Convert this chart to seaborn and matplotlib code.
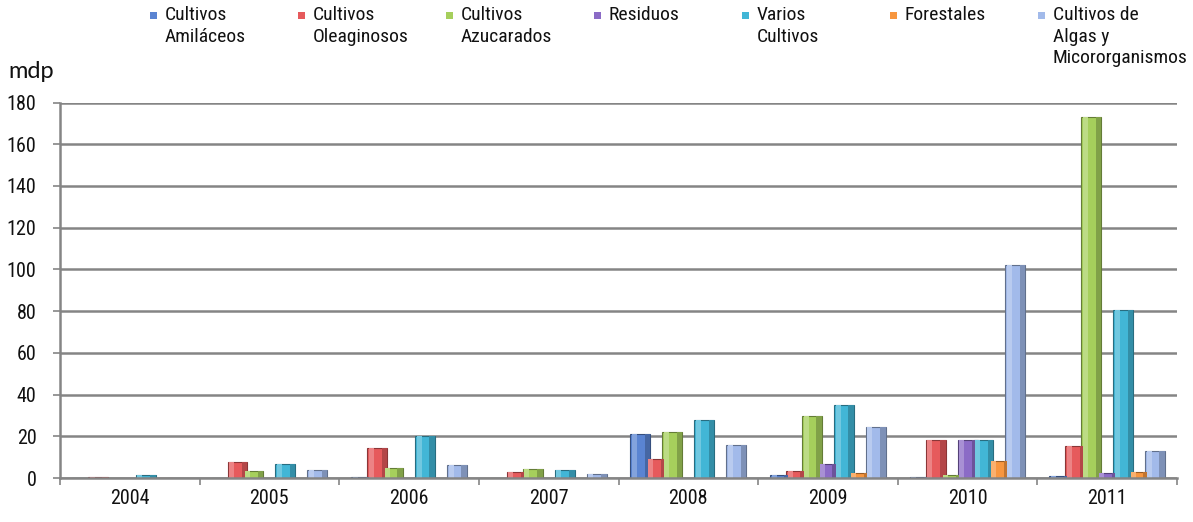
import numpy as np
import pandas as pd
import matplotlib
matplotlib.use("Agg")
import matplotlib.pyplot as plt
import matplotlib.colors as mcolors
from matplotlib import font_manager
from matplotlib.patches import Rectangle
import seaborn as sns

# Inversión por tipo de biomasa (millones de pesos)
years = ["2004", "2005", "2006", "2007", "2008", "2009", "2010", "2011"]
series_names = [
    "Cultivos\nAmiláceos",
    "Cultivos\nOleaginosos",
    "Cultivos\nAzucarados",
    "Residuos",
    "Varios\nCultivos",
    "Forestales",
    "Cultivos de\nAlgas y\nMicororganismos",
]
amilaceos = [0.0, 0.0, 0.3, 0.0, 21.0, 1.5, 0.3, 0.8]
oleaginosos = [0.6, 7.5, 14.5, 2.8, 9.0, 3.5, 18.0, 15.5]
azucarados = [0.2, 3.5, 5.0, 4.5, 22.0, 29.5, 1.5, 173.0]
residuos = [0.0, 0.0, 0.0, 0.0, 0.0, 6.5, 18.0, 2.5]
varios = [1.2, 6.5, 20.0, 3.8, 28.0, 35.0, 18.0, 80.5]
forestales = [0.0, 0.0, 0.0, 0.0, 0.0, 2.5, 8.0, 2.8]
algas = [0.2, 4.0, 6.0, 1.8, 16.0, 24.5, 102.0, 13.0]
y_ticks = [0, 20, 40, 60, 80, 100, 120, 140, 160, 180]

colors = ["#5a84d2", "#e65a5c", "#a6cf5c", "#8b6bc6", "#42b6d6", "#f7963f", "#a2baea"]

values = [amilaceos, oleaginosos, azucarados, residuos, varios, forestales, algas]
df = pd.DataFrame(
    [(y, s, v[i]) for s, v in zip(series_names, values) for i, y in enumerate(years)],
    columns=["year", "serie", "mdp"],
)

# pick a narrow sans face for the labels
entries = font_manager.fontManager.ttflist
names = {f.name for f in entries}
preferred = ["Liberation Sans Narrow", "Roboto Condensed", "Open Sans Condensed",
             "Noto Sans Condensed", "DejaVu Sans Condensed", "Arial Narrow"]
narrow_name = next((n for n in preferred if n in names), None)
narrow_stretch = "normal"
if narrow_name is None:
    cond = [f for f in entries
            if str(f.stretch) in ("condensed", "semi-condensed", "extra-condensed")
            and f.style == "normal"]
    for fam in ["Roboto", "Open Sans", "Noto Sans", "DejaVu Sans", "Liberation Sans"]:
        if any(f.name == fam for f in cond):
            narrow_name, narrow_stretch = fam, "condensed"
            break
if narrow_name is None:
    narrow_name = "Liberation Sans"
narrow = [narrow_name, "DejaVu Sans"]

sns.set_theme(style="white")
plt.rcParams["font.family"] = narrow
plt.rcParams["font.stretch"] = narrow_stretch
plt.rcParams["font.weight"] = "normal"

W, H = 1193, 522
fig = plt.figure(figsize=(W / 100, H / 100), dpi=100)
ax = fig.add_axes([60 / W, 44 / H, (1177 - 60) / W, (478 - 102.5) / H])

sns.barplot(
    data=df, x="year", y="mdp", hue="serie", hue_order=series_names,
    order=years, palette=colors, width=0.8, legend=False, ax=ax,
    linewidth=0, saturation=1,
)

# widen bars so neighbours overlap slightly, and give them a shaded side
for p in list(ax.patches):
    x, w, h = p.get_x(), p.get_width(), p.get_height()
    nw = w * 1.25
    nx = x + w / 2 - nw / 2
    p.set_x(nx)
    p.set_width(nw)
    fc = np.array(mcolors.to_rgb(p.get_facecolor()))
    dark = fc * 0.6
    p.set_edgecolor(tuple(dark))
    p.set_linewidth(0.8)
    if h > 0:
        ax.add_patch(Rectangle((nx + nw * 0.72, 0), nw * 0.28, h,
                               facecolor=tuple(fc * 0.78), edgecolor="none",
                               zorder=p.get_zorder()))
        ax.add_patch(Rectangle((nx + nw * 0.08, 0), nw * 0.25, h,
                               facecolor=tuple(fc + (1 - fc) * 0.25), edgecolor="none",
                               zorder=p.get_zorder()))

ax.set_xlim(-0.5, len(years) - 0.5)
ax.set_ylim(0, 180)
ax.set_yticks(y_ticks)
ax.set_yticklabels([str(t) for t in y_ticks])
ax.set_xlabel("")
ax.set_ylabel("")

grid_c = "#858585"
ax.yaxis.grid(True, color=grid_c, linewidth=1.8)
ax.xaxis.grid(False)
ax.set_axisbelow(True)
for side in ["top", "right"]:
    ax.spines[side].set_visible(False)
for side in ["left", "bottom"]:
    ax.spines[side].set_color(grid_c)
    ax.spines[side].set_linewidth(1.8)

ax.tick_params(axis="y", which="major", left=True, length=5, width=1.2,
               color=grid_c, labelsize=14.5, pad=12, labelcolor="#111111")
ax.set_xticks(np.arange(-0.5, len(years)), minor=True)
ax.tick_params(axis="x", which="minor", bottom=True, length=5, width=1.2,
               color=grid_c)
ax.tick_params(axis="x", which="major", bottom=False, length=0,
               labelsize=14.5, pad=8, labelcolor="#111111")

fig.text(8 / W, 1 - 78 / H, "mdp", fontsize=17,
         family=["Lato", "DejaVu Sans"], stretch="normal", weight="normal",
         color="#111111", va="baseline", ha="left")

# legend laid out as one row of entries
for i, (name, c) in enumerate(zip(series_names, colors)):
    mx = 150 + 148 * i
    fig.patches.append(Rectangle((mx / W, 1 - 19 / H), 7 / W, 7 / H,
                                 transform=fig.transFigure, facecolor=c,
                                 edgecolor="none"))
    fig.text((mx + 15) / W, 1 - 6 / H, name, fontsize=14, ha="left", va="top",
             linespacing=1.26, color="#111111")

fig.savefig("out.png", dpi=100)
